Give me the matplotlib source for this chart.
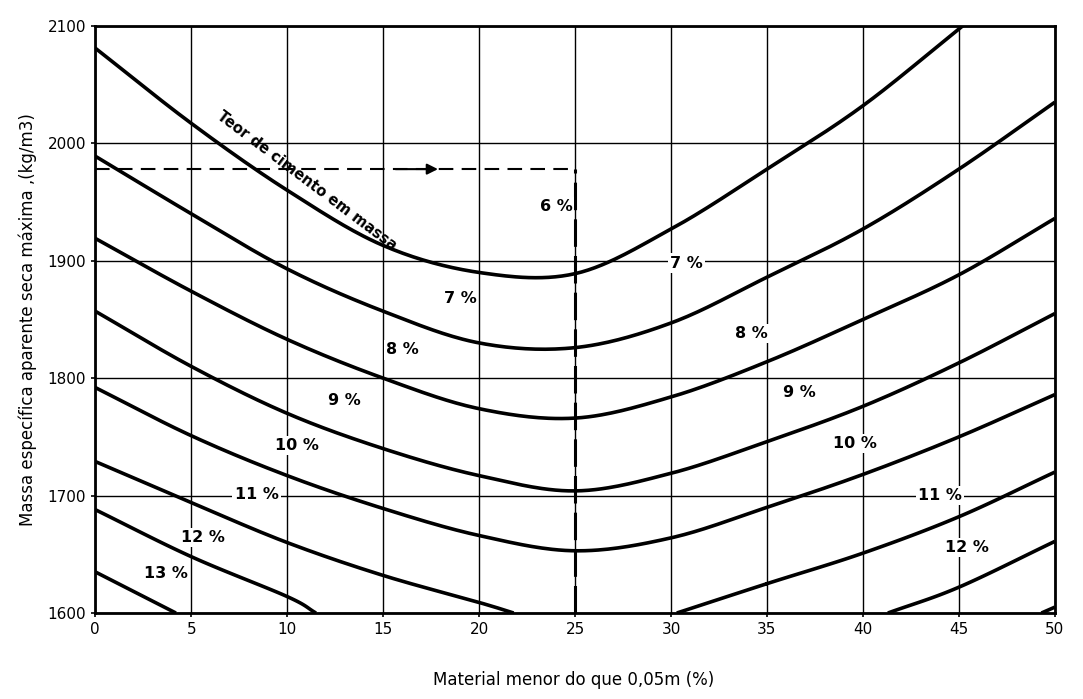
import numpy as np
import matplotlib.pyplot as plt

# boundary curves between cement contents (x = % < 0.05 mm, y = kg/m3)
x_6_7 = [0, 5, 10, 15, 20, 25, 30, 35, 40, 45.2]
y_6_7 = [2081, 2017, 1960, 1913, 1890, 1889, 1927, 1978, 2032, 2100]

x_7_8 = [0, 5, 10, 15, 20, 25, 30, 35, 40, 45, 50]
y_7_8 = [1989, 1940, 1893, 1857, 1830, 1826, 1847, 1886, 1927, 1978, 2035]

x_8_9 = [0, 5, 10, 15, 20, 25, 30, 35, 40, 45, 50]
y_8_9 = [1919, 1874, 1833, 1800, 1774, 1766, 1784, 1814, 1850, 1888, 1936]

x_9_10 = [0, 5, 10, 15, 20, 25, 30, 35, 40, 45, 50]
y_9_10 = [1857, 1810, 1770, 1740, 1717, 1704, 1719, 1746, 1776, 1813, 1855]

x_10_11 = [0, 5, 10, 15, 20, 25, 30, 35, 40, 45, 50]
y_10_11 = [1792, 1751, 1717, 1689, 1666, 1653, 1664, 1690, 1718, 1750, 1786]

x_11_12a = [0, 5, 10, 15, 20, 21.8]
y_11_12a = [1729, 1694, 1660, 1632, 1609, 1600]
x_11_12b = [30.3, 35, 40, 45, 50]
y_11_12b = [1600, 1625, 1651, 1682, 1720]

x_12_13a = [0, 5, 10, 11.5]
y_12_13a = [1688, 1648, 1614, 1600]
x_12_13b = [41.3, 45, 50]
y_12_13b = [1600, 1622, 1661]

x_13_14a = [0, 4.2]
y_13_14a = [1635, 1600]
x_13_14b = [49.3, 50]
y_13_14b = [1600, 1605]

curves = [(x_6_7, y_6_7), (x_7_8, y_7_8), (x_8_9, y_8_9), (x_9_10, y_9_10),
          (x_10_11, y_10_11), (x_11_12a, y_11_12a), (x_11_12b, y_11_12b),
          (x_12_13a, y_12_13a), (x_12_13b, y_12_13b),
          (x_13_14a, y_13_14a), (x_13_14b, y_13_14b)]

# region labels
labels = ['6 %', '7 %', '7 %', '8 %', '8 %', '9 %', '9 %', '10 %', '10 %',
          '11 %', '11 %', '12 %', '12 %', '13 %']
label_x = [24.0, 30.8, 19.0, 16.0, 34.2, 13.0, 36.7, 10.5, 39.6,
           8.4, 44.0, 5.6, 45.4, 3.7]
label_y = [1946, 1898, 1868, 1824, 1838, 1781, 1788, 1743, 1744,
           1701, 1700, 1664, 1656, 1634]

dash_y = 1978
dash_x = 25


def smooth(x, y, n=30):
    # Catmull-Rom through the read points, only for drawing
    x = np.asarray(x, float)
    y = np.asarray(y, float)
    if len(x) < 3:
        return x, y
    px = np.concatenate([[2 * x[0] - x[1]], x, [2 * x[-1] - x[-2]]])
    py = np.concatenate([[2 * y[0] - y[1]], y, [2 * y[-1] - y[-2]]])
    xs, ys = [], []
    t = np.linspace(0, 1, n)
    for i in range(1, len(px) - 2):
        for p, out in ((px, xs), (py, ys)):
            p0, p1, p2, p3 = p[i - 1], p[i], p[i + 1], p[i + 2]
            out.append(0.5 * ((2 * p1) + (-p0 + p2) * t
                              + (2 * p0 - 5 * p1 + 4 * p2 - p3) * t ** 2
                              + (-p0 + 3 * p1 - 3 * p2 + p3) * t ** 3))
    return np.concatenate(xs), np.concatenate(ys)


fig = plt.figure(figsize=(10.83, 6.99), dpi=100)
ax = fig.add_axes([0.088, 0.123, 0.886, 0.840])

ax.set_xlim(0, 50)
ax.set_ylim(1600, 2100)
ax.set_xticks(np.arange(0, 51, 5))
ax.set_yticks(np.arange(1600, 2101, 100))
ax.grid(True, color='black', linewidth=1.0)
for s in ax.spines.values():
    s.set_linewidth(2.0)
ax.tick_params(length=3, width=1.2, labelsize=11)

for cx, cy in curves:
    sx, sy = smooth(cx, cy)
    ax.plot(sx, sy, color='black', linewidth=2.6, solid_capstyle='butt', zorder=3)

# dashed reading example
ax.plot([0, dash_x], [dash_y, dash_y], color='black', linewidth=1.5,
        linestyle=(0, (7, 4)), zorder=3)
ax.plot([dash_x, dash_x], [1600, dash_y], color='black', linewidth=2.2,
        linestyle=(0, (9, 3)), zorder=3)
ax.annotate('', xy=(18.0, dash_y), xytext=(15.5, dash_y),
            arrowprops=dict(arrowstyle='-|>', color='black', lw=1.5,
                            mutation_scale=16), zorder=4)

for t, lx, ly in zip(labels, label_x, label_y):
    ax.text(lx, ly, t, ha='center', va='center', fontsize=11.5, fontweight='bold',
            bbox=dict(facecolor='white', edgecolor='none', pad=1.5), zorder=5)

ax.text(11.0, 1968, 'Teor de cimento em massa', rotation=-37, ha='center',
        va='center', fontsize=10.5, fontweight='bold', rotation_mode='anchor',
        zorder=5)

ax.set_ylabel('Massa específica aparente seca máxima ,(kg/m3)', fontsize=12,
              labelpad=8)
fig.text(0.53, 0.02, 'Material menor do que 0,05m (%)', ha='center',
         fontsize=12)

plt.savefig('out.png', dpi=100)
